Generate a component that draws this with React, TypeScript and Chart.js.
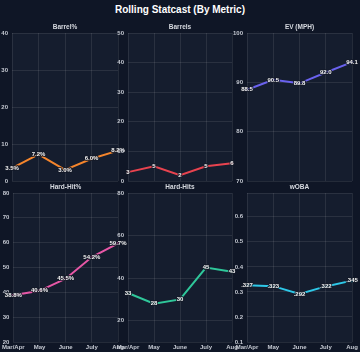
import React, { useEffect, useRef } from 'react';
import { Chart, registerables } from 'chart.js';

Chart.register(...registerables);

const months = ['Mar/Apr', 'May', 'June', 'July', 'Aug'];
const barrelPct = [3.5, 7.2, 3.0, 6.0, 8.2];
const barrels = [3, 5, 2, 5, 6];
const exitVelo = [88.5, 90.5, 89.8, 92.0, 94.1];
const hardHitPct = [38.8, 40.6, 45.5, 54.2, 59.7];
const hardHits = [33, 28, 30, 45, 43];
const woba = [0.327, 0.323, 0.292, 0.322, 0.345];

const W = 360;
const H = 352;
const PAGE_BG = '#0f1626';
const PLOT_BG = '#151d2e';
const GRID = 'rgba(255,255,255,0.09)';
const TICK = '#c5c9d2';
const FONT = "'Liberation Sans', Arial, sans-serif";

type Panel = {
  title: string;
  data: number[];
  color: string;
  min: number;
  max: number;
  step: number;
  fmt: (v: number) => string;
  tickFmt: (v: number) => string;
  box: { left: number; right: number; top: number; bottom: number };
  showX: boolean;
};

const topBox = (l: number, r: number) => ({ left: l, right: r, top: 33, bottom: 181 });
const botBox = (l: number, r: number) => ({ left: l, right: r, top: 193, bottom: 342 });

const panels: Panel[] = [
  { title: 'Barrel%', data: barrelPct, color: '#f5852c', min: 0, max: 40, step: 10, fmt: (v) => v.toFixed(1) + '%', tickFmt: (v) => String(v), box: topBox(12, 118), showX: false },
  { title: 'Barrels', data: barrels, color: '#e8434f', min: 0, max: 50, step: 10, fmt: (v) => String(v), tickFmt: (v) => String(v), box: topBox(128, 232), showX: false },
  { title: 'EV (MPH)', data: exitVelo, color: '#6a62ee', min: 70, max: 100, step: 10, fmt: (v) => v.toFixed(1), tickFmt: (v) => String(v), box: topBox(247, 352), showX: false },
  { title: 'Hard-Hit%', data: hardHitPct, color: '#e757a6', min: 20, max: 80, step: 10, fmt: (v) => v.toFixed(1) + '%', tickFmt: (v) => String(v), box: botBox(12, 118), showX: true },
  { title: 'Hard-Hits', data: hardHits, color: '#2fc79a', min: 10, max: 80, step: 20, fmt: (v) => String(v), tickFmt: (v) => String(v), box: botBox(128, 232), showX: true },
  { title: 'wOBA', data: woba, color: '#2ec8e8', min: 0.1, max: 0.695, step: 0.1, fmt: (v) => v.toFixed(3).replace(/^0/, ''), tickFmt: (v) => v.toFixed(1), box: botBox(247, 352), showX: true },
];

const plotBgPlugin = {
  id: 'plotBg',
  beforeDraw(chart: any) {
    const { ctx, chartArea } = chart;
    ctx.save();
    ctx.fillStyle = PLOT_BG;
    ctx.fillRect(chartArea.left, chartArea.top, chartArea.right - chartArea.left, chartArea.bottom - chartArea.top);
    ctx.restore();
  },
};

function makeLabelPlugin(fmt: (v: number) => string) {
  return {
    id: 'pointLabels',
    afterDatasetsDraw(chart: any) {
      const { ctx } = chart;
      const meta = chart.getDatasetMeta(0);
      const data = chart.data.datasets[0].data as number[];
      ctx.save();
      ctx.font = `bold 6px ${FONT}`;
      ctx.textAlign = 'center';
      ctx.textBaseline = 'middle';
      ctx.lineJoin = 'round';
      meta.data.forEach((pt: any, i: number) => {
        const t = fmt(Number(data[i]));
        ctx.lineWidth = 2;
        ctx.strokeStyle = 'rgba(20,26,40,0.85)';
        ctx.strokeText(t, pt.x, pt.y);
        ctx.fillStyle = '#f2f2f2';
        ctx.fillText(t, pt.x, pt.y);
      });
      ctx.restore();
    },
  };
}

function isStep(v: number, step: number) {
  const k = v / step;
  return Math.abs(k - Math.round(k)) < 1e-6;
}

function PanelChart({ p }: { p: Panel }) {
  const ref = useRef<HTMLCanvasElement>(null);
  useEffect(() => {
    if (!ref.current) return;
    const titleH = 9.8;
    const xAxisH = p.showX ? 9 : 0;
    const yAxisW = 14;
    const chart = new Chart(ref.current, {
      type: 'line',
      data: {
        labels: months,
        datasets: [
          {
            data: p.data,
            borderColor: p.color,
            backgroundColor: p.color,
            borderWidth: 2,
            pointRadius: 1.5,
            pointBorderWidth: 0,
            tension: 0,
          },
        ],
      },
      options: {
        animation: false,
        responsive: false,
        devicePixelRatio: 1,
        layout: {
          padding: {
            left: p.box.left - yAxisW,
            right: W - p.box.right,
            top: p.box.top - titleH,
            bottom: H - p.box.bottom - xAxisH,
          },
        },
        plugins: {
          legend: { display: false },
          tooltip: { enabled: false },
          title: {
            display: true,
            text: p.title,
            fullSize: false,
            color: '#d6d9df',
            font: { family: FONT, size: 6.5, weight: 'bold', lineHeight: 1.2 },
            padding: { top: 0, bottom: 2 },
          },
        },
        scales: {
          x: {
            offset: false,
            grid: { color: GRID, drawTicks: false, lineWidth: 1 },
            border: { display: false },
            ticks: {
              display: p.showX,
              color: TICK,
              padding: 2,
              maxRotation: 0,
              autoSkip: false,
              font: { family: FONT, size: 6, weight: 'bold' },
            },
            afterFit: (s: any) => {
              s.height = xAxisH;
            },
          },
          y: {
            min: p.min,
            max: p.max,
            grid: { color: GRID, drawTicks: false, lineWidth: 1 },
            border: { display: false },
            ticks: {
              stepSize: p.step,
              color: TICK,
              padding: 4,
              font: { family: FONT, size: 6, weight: 'bold' },
              callback: (v: any) => (isStep(Number(v), p.step) ? p.tickFmt(Number(v)) : ''),
            },
            afterFit: (s: any) => {
              s.width = yAxisW;
            },
          },
        },
      },
      plugins: [plotBgPlugin, makeLabelPlugin(p.fmt)],
    });
    return () => chart.destroy();
  }, [p]);
  return (
    <canvas
      ref={ref}
      width={W}
      height={H}
      style={{ position: 'absolute', left: 0, top: 0, width: W, height: H }}
    />
  );
}

export default function App() {
  return (
    <div
      style={{
        position: 'fixed',
        left: 0,
        top: 0,
        width: W,
        height: H,
        background: PAGE_BG,
        overflow: 'hidden',
      }}
    >
      <div
        style={{
          position: 'absolute',
          left: 0,
          top: 3,
          width: W,
          textAlign: 'center',
          color: '#ffffff',
          fontFamily: FONT,
          fontWeight: 'bold',
          fontSize: 10,
          lineHeight: '14px',
        }}
      >
        Rolling Statcast (By Metric)
      </div>
      {panels.map((p) => (
        <PanelChart key={p.title} p={p} />
      ))}
    </div>
  );
}
